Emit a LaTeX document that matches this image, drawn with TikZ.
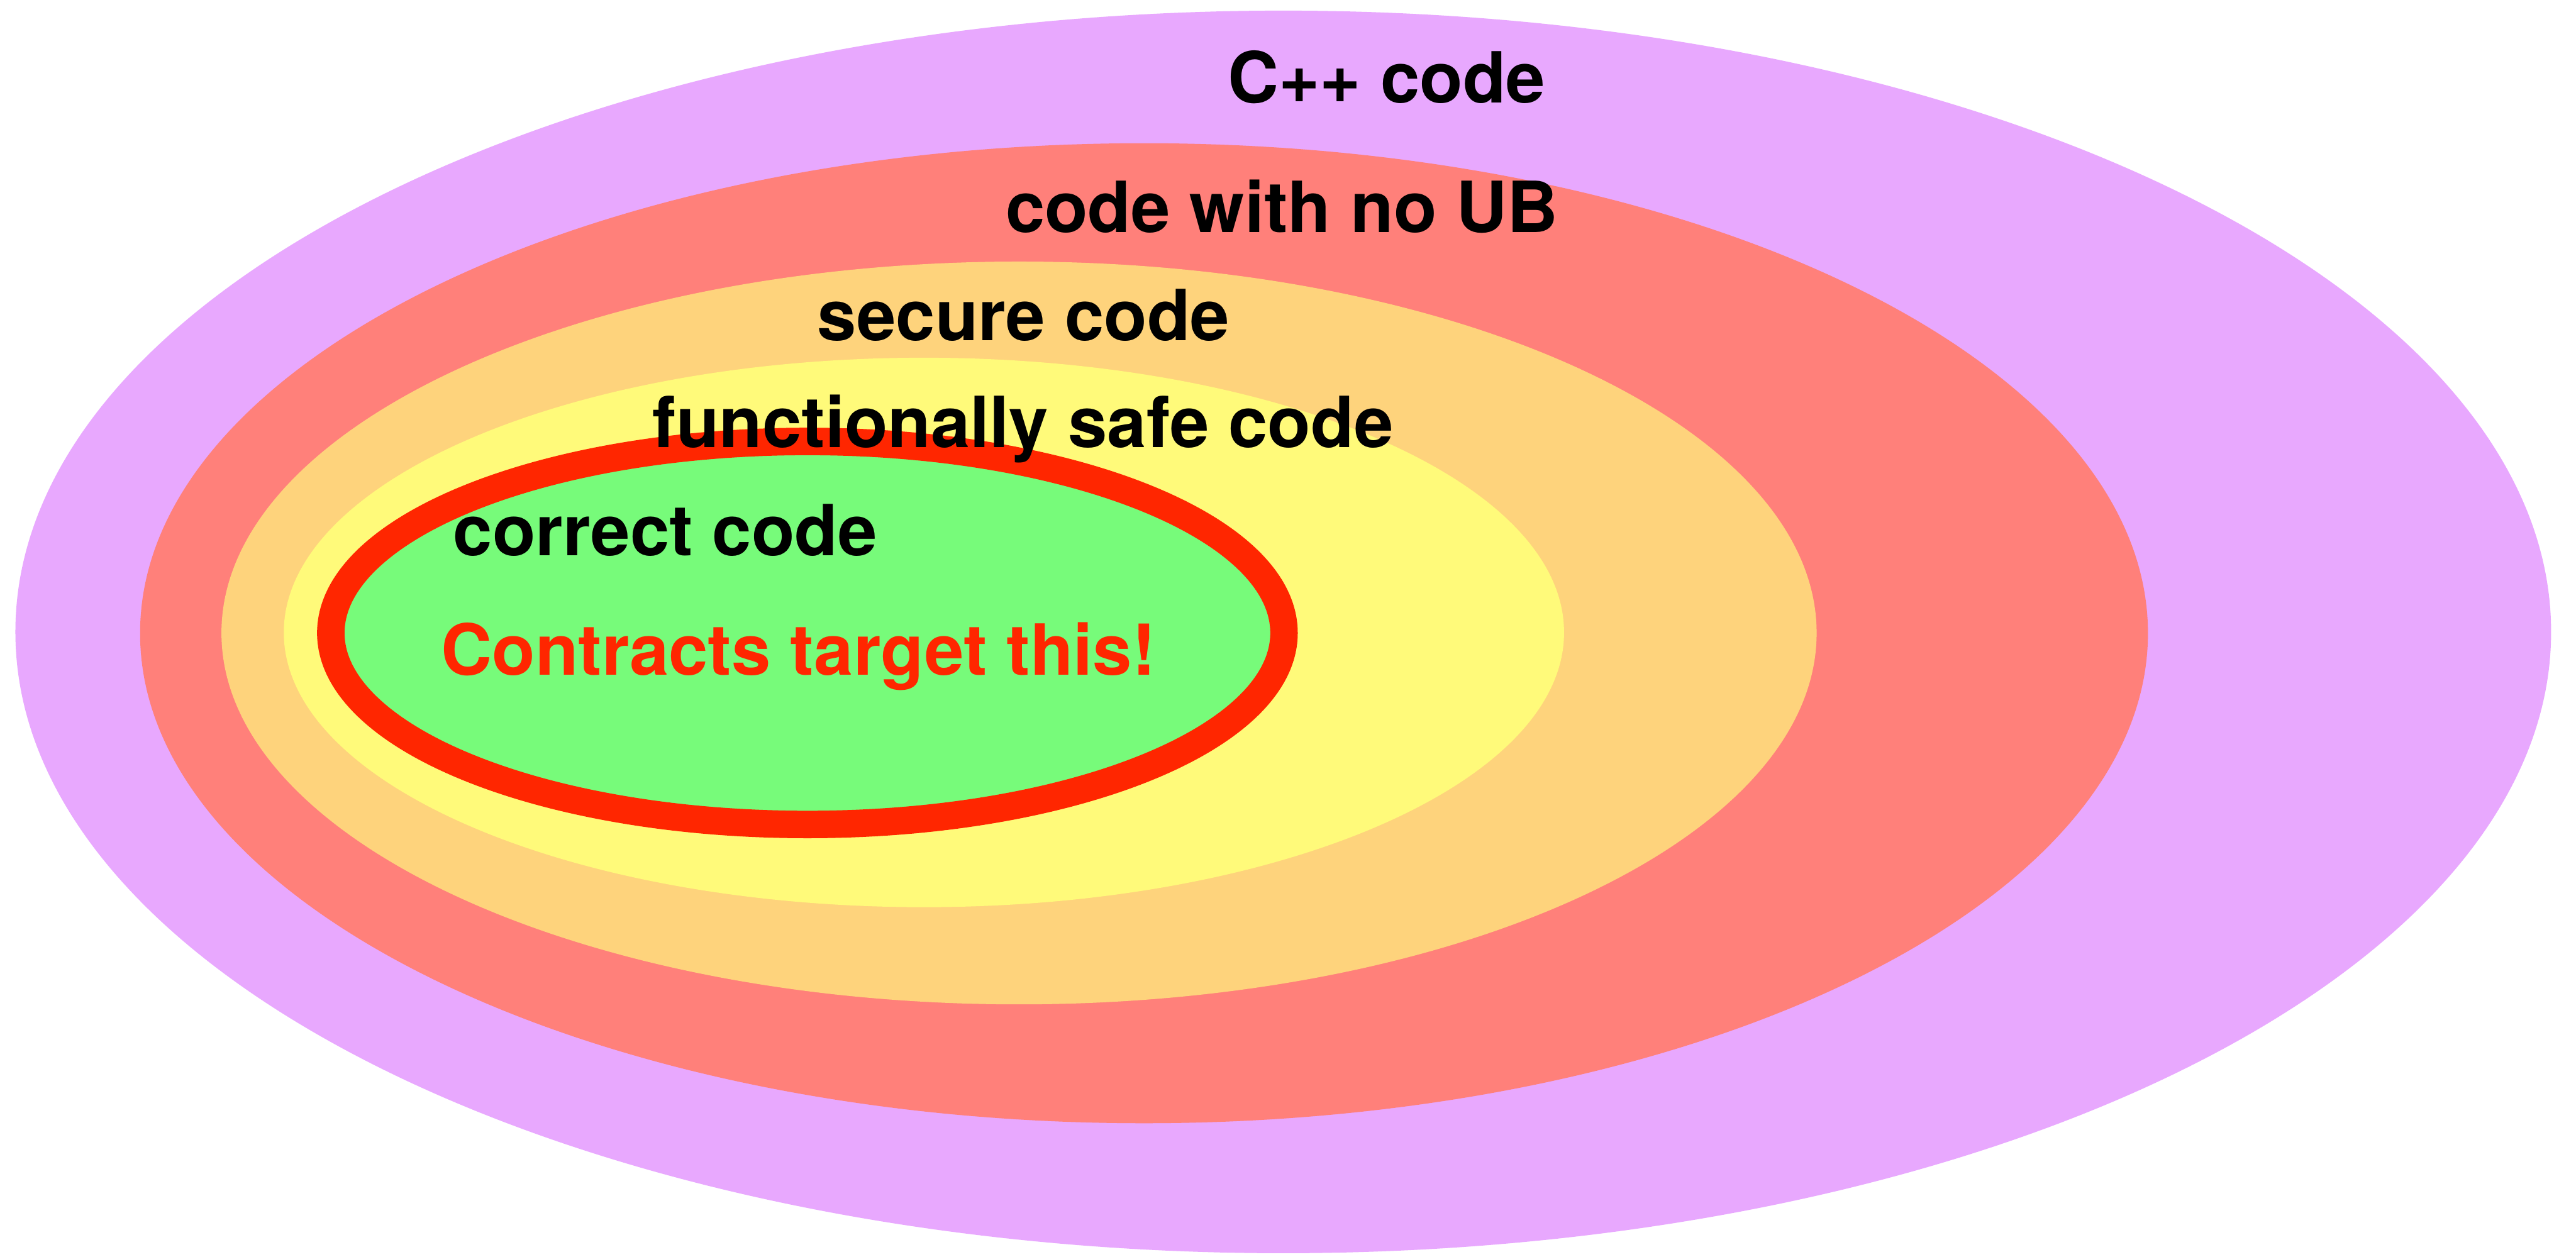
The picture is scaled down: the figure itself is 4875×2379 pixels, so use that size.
\documentclass[tikz,border=0pt]{standalone}
\usepackage{fontspec}
\setmainfont{TeX Gyre Heros}
\definecolor{cppPurple}{RGB}{232,168,254}
\definecolor{noUBRed}{RGB}{255,128,122}
\definecolor{secureOrange}{RGB}{254,211,124}
\definecolor{safeYellow}{RGB}{255,250,122}
\definecolor{correctGreen}{RGB}{119,251,122}
\definecolor{contractRed}{RGB}{255,38,0}
\begin{document}
\begin{tikzpicture}[x=0.1pt,y=-0.1pt,
  setlabel/.style={anchor=base, inner sep=0pt,
    font=\fontsize{13.35}{16}\selectfont\bfseries}]
  % canvas
  \fill[white] (0,0) rectangle (4875,2379);
  \useasboundingbox (0,0) rectangle (4875,2379);

  % nested sets of code, outermost first
  \fill[cppPurple]    (2428.5,1196)  ellipse [x radius=239.95pt, y radius=117.6pt];
  \fill[noUBRed]      (2165,1198.5)  ellipse [x radius=190pt,    y radius=92.75pt];
  \fill[secureOrange] (1928.5,1198)  ellipse [x radius=150.95pt, y radius=70.3pt];
  \fill[safeYellow]   (1748.5,1197)  ellipse [x radius=121.15pt, y radius=52pt];
  \filldraw[fill=correctGreen, draw=contractRed, line width=5.2pt]
                      (1528,1198)    ellipse [x radius=90.2pt,   y radius=36.25pt];

  % set names
  \node[setlabel] (cpp)       at (2624,194)  {C++ code};
  \node[setlabel] (noub)      at (2426,440)  {code with no UB};
  \node[setlabel] (secure)    at (1937,644)  {secure code};
  \node[setlabel] (funcsafe)  at (1936,847)  {functionally safe code};
  \node[setlabel] (correct)   at (1259,1051) {correct code};
  \node[setlabel, text=contractRed] (contracts) at (1511,1278) {Contracts target this!};
\end{tikzpicture}
\end{document}
